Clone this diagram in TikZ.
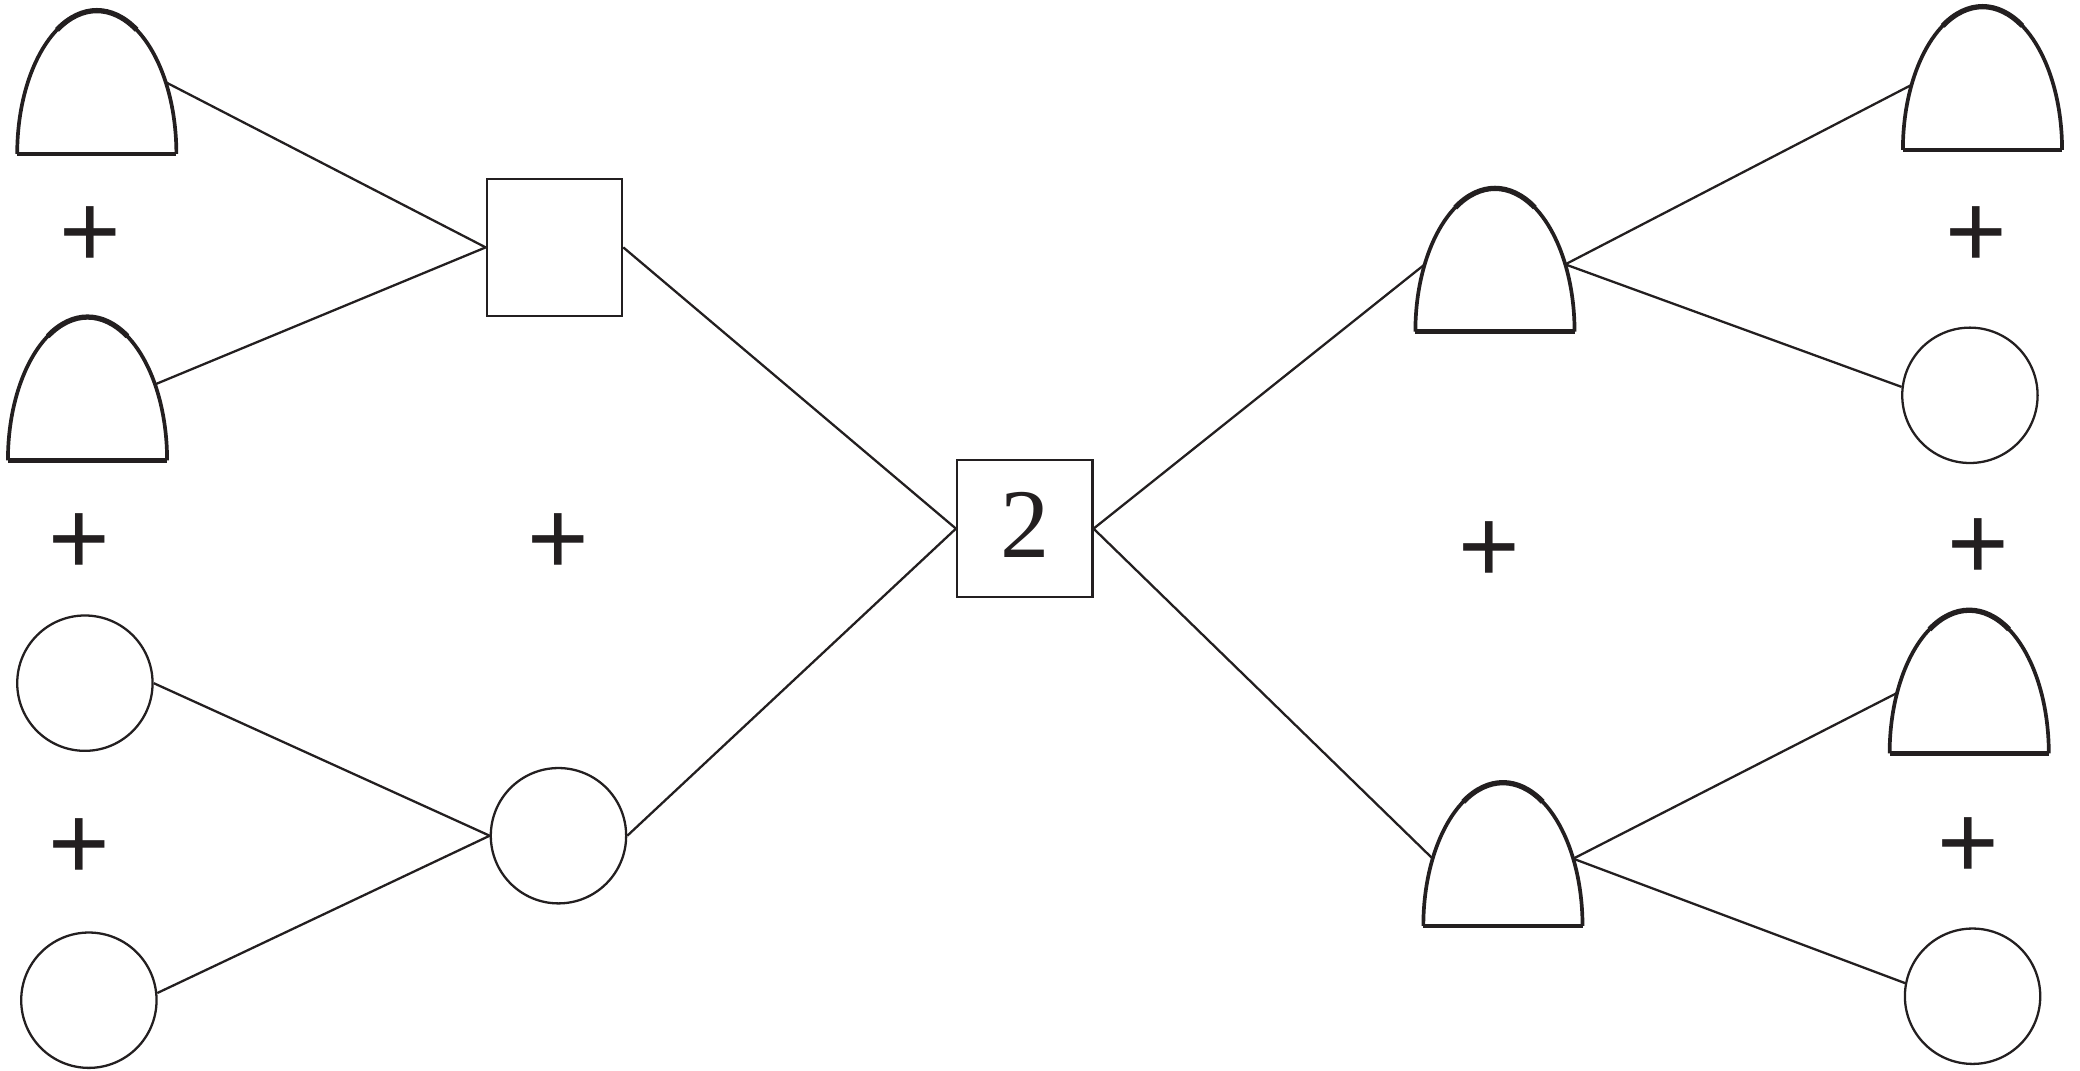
\documentclass[tikz,border=0pt]{standalone}
\usepackage{fontspec}
\usetikzlibrary{calc}
\newfontfamily\plusfont{Liberation Sans}
\newfontfamily\numfont{Liberation Serif}
\definecolor{ink}{HTML}{231F20}
\newcommand{\domeshape}[1]{%
  \draw[domeline] (#1.south west) arc[start angle=180,end angle=360,x radius=60,y radius=108];
  \draw[domeline,line width=1.5pt] ($(#1.south)+(240:60 and 108)$) arc[start angle=240,end angle=300,x radius=60,y radius=108];
  \draw[domebase] (#1.south west) -- (#1.south east);}
\begin{document}
\begin{tikzpicture}[x=0.013265cm,y=-0.013265cm,
  conn/.style={draw=ink,line width=0.65pt},
  circ/.style={circle,draw=ink,line width=0.65pt,minimum size=1.353cm,inner sep=0pt},
  boxnode/.style={rectangle,draw=ink,line width=0.65pt,minimum width=1.353cm,minimum height=1.366cm,inner sep=0pt},
  dome/.style={rectangle,minimum width=1.592cm,minimum height=1.433cm,inner sep=0pt,outer sep=0pt,anchor=south},
  domeline/.style={draw=ink,line width=1.05pt},
  domebase/.style={draw=ink,line width=1.3pt},
  plus/.style={text=ink,font=\plusfont\fontsize{30}{30}\selectfont,inner sep=0pt}]
\useasboundingbox (0,0) rectangle (1568,807);
% left column
\node[dome] (A1) at (73,116) {};
\node[dome] (A2) at (66,347) {};
\node[circ] (C1) at (64,515) {};
\node[circ] (C2) at (67,754) {};
% second column
\node[boxnode] (B1) at (418,186.5) {};
\node[circ] (C3) at (421,630) {};
% centre
\node[boxnode,text=ink,text depth=0.08cm,font=\numfont\fontsize{28}{28}\selectfont] (B2) at (772.5,398.5) {2};
% right inner
\node[dome] (R1) at (1127,250) {};
\node[dome] (R2) at (1133,698) {};
% far right
\node[dome] (F1) at (1494.5,113) {};
\node[circ] (F2) at (1485,298) {};
\node[dome] (F3) at (1484.5,568) {};
\node[circ] (F4) at (1487,751) {};
% dome outlines
\domeshape{A1}\domeshape{A2}\domeshape{R1}\domeshape{R2}\domeshape{F1}\domeshape{F3}
% plus signs
\node[plus] (p1) at (68,179) {+};
\node[plus] (p2) at (60,410) {+};
\node[plus] (p3) at (60,640) {+};
\node[plus] (p4) at (421,410) {+};
\node[plus] (p5) at (1123,416) {+};
\node[plus] (p6) at (1490,179) {+};
\node[plus] (p7) at (1491,414) {+};
\node[plus] (p8) at (1484,639) {+};
% connection points on domes
\coordinate (A1r) at ($(A1.south)+(330:60 and 108)$);
\coordinate (A2r) at ($(A2.south)+(328:60 and 108)$);
\coordinate (R1l) at ($(R1.south)+(208:60 and 108)$);
\coordinate (R1r) at ($(R1.south)+(332:60 and 108)$);
\coordinate (R2l) at ($(R2.south)+(208:60 and 108)$);
\coordinate (R2r) at ($(R2.south)+(332:60 and 108)$);
\coordinate (F1l) at ($(F1.south)+(207:60 and 108)$);
\coordinate (F3l) at ($(F3.south)+(205:60 and 108)$);
% connectors
\draw[conn] (A1r) -- (B1.west);
\draw[conn] (A2r) -- (B1.west);
\draw[conn] (C1.east) -- (C3.west);
\draw[conn] (C2.6) -- (C3.west);
\draw[conn] (B1.east) -- (B2.west);
\draw[conn] (C3.east) -- (B2.west);
\draw[conn] (B2.east) -- (R1l);
\draw[conn] (B2.east) -- (R2l);
\draw[conn] (R1r) -- (F1l);
\draw[conn] (R1r) -- (F2.173);
\draw[conn] (R2r) -- (F3l);
\draw[conn] (R2r) -- (F4.169);
\end{tikzpicture}
\end{document}
